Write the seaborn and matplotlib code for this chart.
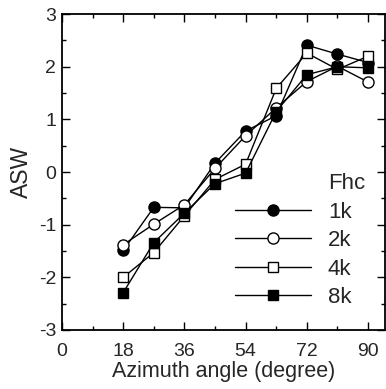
import matplotlib
matplotlib.use("Agg")
import matplotlib.pyplot as plt
import seaborn as sns
import pandas as pd
from matplotlib.ticker import MultipleLocator
from matplotlib.lines import Line2D

angles = [18, 27, 36, 45, 54, 63, 72, 81, 90]
asw_1k = [-1.49, -0.67, -0.68, 0.17, 0.78, 1.07, 2.41, 2.24, 2.08]
asw_2k = [-1.38, -0.99, -0.62, 0.07, 0.69, 1.22, 1.72, 2.01, 1.71]
asw_4k = [-2.00, -1.53, -0.83, -0.14, 0.15, 1.59, 2.26, 1.95, 2.20]
asw_8k = [-2.29, -1.34, -0.78, -0.22, -0.02, 1.15, 1.85, 2.00, 1.98]
labels = ["1k", "2k", "4k", "8k"]
legend_title = "Fhc"
series = [asw_1k, asw_2k, asw_4k, asw_8k]
markers = ["o", "o", "s", "s"]
faces = ["black", "white", "white", "black"]

sns.set_theme(style="ticks")
plt.rcParams["font.family"] = ["Liberation Sans", "DejaVu Sans"]
plt.rcParams["axes.unicode_minus"] = False

fig = plt.figure(figsize=(3.86, 3.89), dpi=100)
ax = fig.add_axes([0.1606, 0.1517, 0.837, 0.812])

handles = []
for lab, vals, m, fc in zip(labels, series, markers, faces):
    df = pd.DataFrame({"angle": angles, "asw": vals})
    ms = 8 if m == "o" else 7.5
    sns.lineplot(data=df, x="angle", y="asw", ax=ax, color="black", lw=1.0,
                 marker=m, markersize=ms,
                 markerfacecolor=fc, markeredgecolor="black", markeredgewidth=1.0)
    handles.append(Line2D([], [], color="black", lw=1.0, marker=m,
                          markersize=ms, markerfacecolor=fc,
                          markeredgecolor="black", markeredgewidth=1.0))

ax.set_xlim(0, 95)
ax.set_ylim(-3, 3)
ax.xaxis.set_major_locator(MultipleLocator(18))
ax.xaxis.set_minor_locator(MultipleLocator(9))
ax.yaxis.set_major_locator(MultipleLocator(1))
ax.yaxis.set_minor_locator(MultipleLocator(0.5))
ax.tick_params(which="both", direction="in", top=True, right=True,
               labelsize=14, color="black", width=1.0)
ax.tick_params(which="major", length=6)
ax.tick_params(which="minor", length=3)
ax.tick_params(axis="x", which="major", pad=9.5)
ax.tick_params(axis="y", which="major", pad=4.3)
for s in ax.spines.values():
    s.set_linewidth(1.3)
    s.set_color("black")
ax.set_xlabel("Azimuth angle (degree)", fontsize=15.5, labelpad=0.5)
ax.set_ylabel("ASW", fontsize=16.5, labelpad=4)

leg = ax.legend(handles, labels, loc="lower left",
                bbox_to_anchor=(0.536, 0.07), borderaxespad=0, borderpad=0,
                frameon=False, fontsize=16, handlelength=3.4,
                handletextpad=0.77, labelspacing=0.33)
ax.text(0.823, 0.463, legend_title, transform=ax.transAxes, fontsize=16,
        ha="left", va="center")

fig.savefig("out.png", dpi=100)
